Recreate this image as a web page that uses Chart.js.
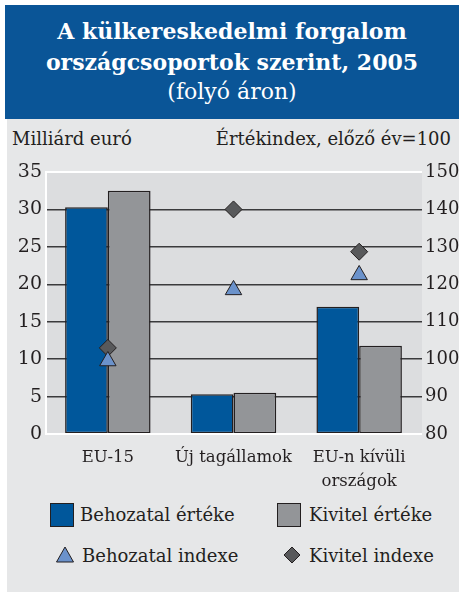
<!DOCTYPE html>
<html>
<head>
<meta charset="utf-8">
<script src="https://cdn.jsdelivr.net/npm/chart.js@4"></script>
<style>
  body { margin: 0; background: #fff; width: 461px; height: 598px; position: relative; overflow: hidden;
         font-family: "DejaVu Serif", serif; color: #231f20; }
  #head { position: absolute; left: 5px; top: 5px; width: 454px; height: 114px; background: #0a5597;
          color: #fff; text-align: center; }
  #head .l { position: absolute; left: 0; width: 100%; font-size: 22px; line-height: 26px; }
  #head .b { font-weight: bold; }
  #panel { position: absolute; left: 7px; top: 119px; width: 452px; height: 473px; background: #e6e7e8; }
  .atitle { position: absolute; top: 128px; font-size: 18px; line-height: 22px; white-space: nowrap; }
  #wrap { position: absolute; left: 0; top: 150px; width: 461px; height: 345px; }
  .leg { position: absolute; font-size: 18px; line-height: 22px; white-space: nowrap; }
  .sq { position: absolute; width: 22px; height: 22px; border: 1.5px solid #231f20; }
</style>
</head>
<body>
<div id="head">
  <div class="l b" style="top:13px">A külkereskedelmi forgalom</div>
  <div class="l b" style="top:44px">országcsoportok szerint, 2005</div>
  <div class="l" style="top:74px">(folyó áron)</div>
</div>
<div id="panel"></div>
<div class="atitle" style="left:12px">Milliárd euró</div>
<div class="atitle" style="right:10px">Értékindex, előző év=100</div>
<div id="wrap"><canvas id="myChart"></canvas></div>

<div class="sq" style="left:50px;top:503px;background:#00579b"></div>
<div class="leg" style="left:80px;top:504px">Behozatal értéke</div>
<div class="sq" style="left:277px;top:503px;background:#939598"></div>
<div class="leg" style="left:309px;top:504px">Kivitel értéke</div>
<svg style="position:absolute;left:55px;top:545px" width="20" height="20">
  <polygon points="10,2 18.5,17 1.5,17" fill="#6b92cb" stroke="#231f20" stroke-width="1"/>
</svg>
<div class="leg" style="left:82px;top:545px">Behozatal indexe</div>
<svg style="position:absolute;left:282px;top:545px" width="20" height="20">
  <polygon points="10,2 18,10 10,18 2,10" fill="#58595b" stroke="#231f20" stroke-width="1"/>
</svg>
<div class="leg" style="left:309px;top:545px">Kivitel indexe</div>

<script>
const categories = ['EU-15', 'Új tagállamok', ['EU-n kívüli', 'országok']];
const importValue = [30.3, 5.3, 17.0];
const exportValue = [32.5, 5.5, 11.8];
const importIndex = [99.5, 118.5, 122.5];
const exportIndex = [103, 140, 128.7];
const leftTicks = [0, 35, 5];
const rightTicks = [80, 150, 10];

const ink = '#231f20';

const plotBg = {
    id: 'plotBg',
    beforeDraw(chart) {
        const a = chart.chartArea;
        const c = chart.ctx;
        c.save();
        c.fillStyle = '#dcdddf';
        c.fillRect(a.left, a.top, a.right - a.left, a.bottom - a.top);
        c.restore();
    },
    afterDatasetsDraw(chart) {
        // white frame goes over the bar bottoms
        const a = chart.chartArea;
        const c = chart.ctx;
        c.save();
        c.strokeStyle = '#ffffff';
        c.lineWidth = 2;
        c.beginPath();
        c.moveTo(a.left, a.top);
        c.lineTo(a.right, a.top);
        c.moveTo(a.left, a.bottom);
        c.lineTo(a.right, a.bottom);
        c.moveTo(a.left + 1, a.top);
        c.lineTo(a.left + 1, a.bottom);
        c.stroke();
        c.restore();
    }
};

let ctx = document.getElementById('myChart');

new Chart(ctx, {
    data: {
        labels: categories,
        datasets: [{
            type: 'line',
            label: 'Behozatal indexe',
            data: importIndex,
            yAxisID: 'y1',
            showLine: false,
            pointStyle: 'triangle',
            pointRadius: 9.5,
            pointBackgroundColor: '#6b92cb',
            pointBorderColor: ink,
            pointBorderWidth: 1
        }, {
            type: 'line',
            label: 'Kivitel indexe',
            data: exportIndex,
            yAxisID: 'y1',
            showLine: false,
            pointStyle: 'rectRot',
            pointRadius: 8.5,
            pointBackgroundColor: '#58595b',
            pointBorderColor: ink,
            pointBorderWidth: 1
        }, {
            type: 'bar',
            label: 'Behozatal értéke',
            data: importValue,
            yAxisID: 'y',
            backgroundColor: '#00579b',
            borderColor: ink,
            borderWidth: 1.5,
            borderSkipped: false,
            barPercentage: 1,
            categoryPercentage: 0.68
        }, {
            type: 'bar',
            label: 'Kivitel értéke',
            data: exportValue,
            yAxisID: 'y',
            backgroundColor: '#939598',
            borderColor: ink,
            borderWidth: 1.5,
            borderSkipped: false,
            barPercentage: 1,
            categoryPercentage: 0.68
        }]
    },
    options: {
        responsive: true,
        maintainAspectRatio: false,
        animation: false,
        layout: { padding: { top: 22 } },
        plugins: {
            legend: { display: false },
            tooltip: { enabled: false }
        },
        scales: {
            x: {
                grid: { display: false },
                border: { display: false },
                ticks: {
                    color: ink,
                    padding: 4,
                    maxRotation: 0,
                    autoSkip: false,
                    font: { family: 'DejaVu Serif', size: 16.5, lineHeight: 1.45 }
                },
                afterFit(scale) { scale.height = 61; }
            },
            y: {
                position: 'left',
                min: leftTicks[0],
                max: leftTicks[1],
                ticks: {
                    stepSize: leftTicks[2],
                    color: ink,
                    padding: 3,
                    font: { family: 'DejaVu Serif', size: 19 }
                },
                grid: {
                    drawTicks: false,
                    lineWidth: 1.5,
                    color: (c) => (c.tick.value === leftTicks[0] || c.tick.value === leftTicks[1]) ? 'rgba(0,0,0,0)' : '#3a3a3c'
                },
                border: { display: false },
                afterFit(scale) { scale.width = 45; }
            },
            y1: {
                position: 'right',
                min: rightTicks[0],
                max: rightTicks[1],
                ticks: {
                    stepSize: rightTicks[2],
                    color: ink,
                    padding: 3,
                    font: { family: 'DejaVu Serif', size: 18 }
                },
                grid: { display: false, drawTicks: false },
                border: { display: false },
                afterFit(scale) { scale.width = 39; }
            }
        }
    },
    plugins: [plotBg]
});
</script>
</body>
</html>
